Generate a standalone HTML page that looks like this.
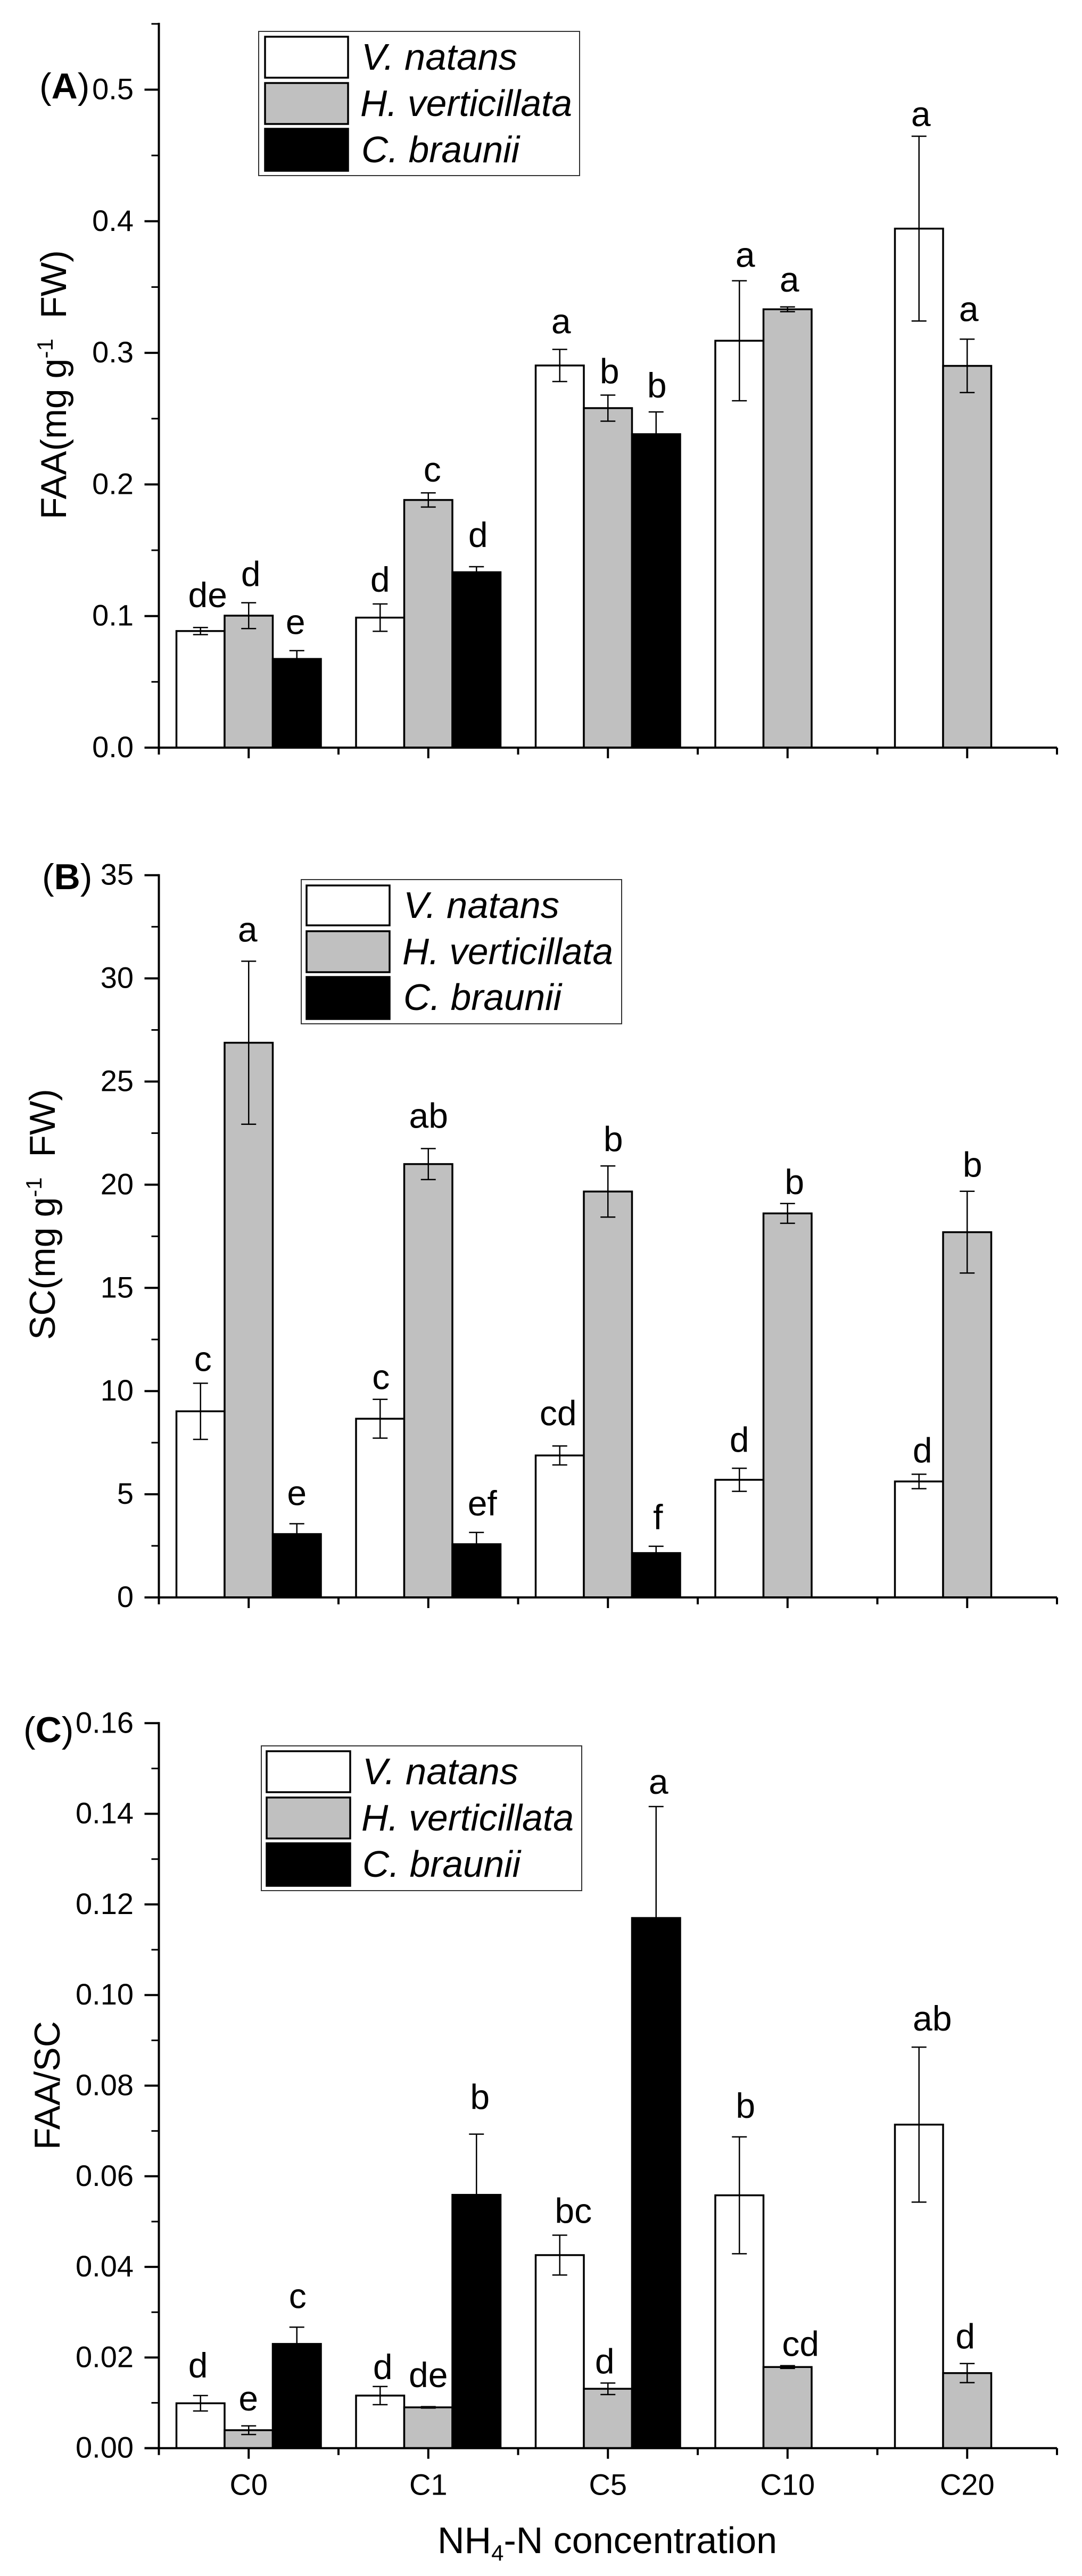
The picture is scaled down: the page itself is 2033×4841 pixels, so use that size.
<!DOCTYPE html>
<html lang="en">
<head>
<meta charset="utf-8">
<title>FAA, SC and FAA/SC by NH4-N concentration</title>
<style>
html,body{margin:0;padding:0;background:#fff;}
svg{display:block;}
text{font-family:"Liberation Sans",Arial,sans-serif;fill:#000;}
.leg{font-size:69.5px;font-style:italic;}
.ttl{font-size:68px;}
</style>
</head>
<body>
<svg id="fig" xmlns="http://www.w3.org/2000/svg" width="2033" height="4841" viewBox="0 0 2033 4841">
<rect x="0" y="0" width="2033" height="4841" fill="#fff"/>

<g id="panelA"></g>
<g id="panelB"></g>
<g id="panelC"></g>

<text class="ttl" x="74" y="185">(<tspan font-weight="bold">A</tspan>)</text>
<text class="ttl" x="79" y="1671">(<tspan font-weight="bold">B</tspan>)</text>
<text class="ttl" x="44" y="3274">(<tspan font-weight="bold">C</tspan>)</text>

<text class="ttl" xml:space="preserve" transform="translate(124,976) rotate(-90)">FAA(mg g<tspan dy="-25" font-size="42">-1</tspan><tspan dy="25">  FW)</tspan></text>
<text class="ttl" xml:space="preserve" transform="translate(103,2518) rotate(-90)">SC(mg g<tspan dy="-25" font-size="42">-1</tspan><tspan dy="25">  FW)</tspan></text>
<text class="ttl" transform="translate(112,4040) rotate(-90)">FAA/SC</text>
<text x="822" y="4798" font-size="70">NH<tspan dy="14" font-size="42">4</tspan><tspan dy="-14">-N concentration</tspan></text>

<g>
  <rect x="486" y="59" width="603" height="271" fill="#fff" stroke="#333" stroke-width="2"/>
  <rect x="498" y="69" width="156" height="77" fill="#fff" stroke="#000" stroke-width="3.5"/>
  <rect x="498" y="156" width="156" height="77" fill="#c0c0c0" stroke="#000" stroke-width="3.5"/>
  <rect x="498" y="242" width="156" height="79" fill="#000" stroke="#000" stroke-width="3.5"/>
  <text class="leg" x="679" y="131" textLength="293" lengthAdjust="spacingAndGlyphs">V. natans</text>
  <text class="leg" x="677" y="218" textLength="398" lengthAdjust="spacingAndGlyphs">H. verticillata</text>
  <text class="leg" x="679" y="305" textLength="297" lengthAdjust="spacingAndGlyphs">C. braunii</text>
</g>
<g>
  <rect x="566" y="1653" width="602" height="271" fill="#fff" stroke="#333" stroke-width="2"/>
  <rect x="576" y="1664" width="156" height="75" fill="#fff" stroke="#000" stroke-width="3.5"/>
  <rect x="576" y="1750" width="156" height="77" fill="#c0c0c0" stroke="#000" stroke-width="3.5"/>
  <rect x="576" y="1836" width="156" height="79" fill="#000" stroke="#000" stroke-width="3.5"/>
  <text class="leg" x="758" y="1725" textLength="293" lengthAdjust="spacingAndGlyphs">V. natans</text>
  <text class="leg" x="756" y="1812" textLength="396" lengthAdjust="spacingAndGlyphs">H. verticillata</text>
  <text class="leg" x="758" y="1898" textLength="297" lengthAdjust="spacingAndGlyphs">C. braunii</text>
</g>
<g>
  <rect x="491" y="3281" width="602" height="272" fill="#fff" stroke="#333" stroke-width="2"/>
  <rect x="501" y="3291" width="157" height="77" fill="#fff" stroke="#000" stroke-width="3.5"/>
  <rect x="501" y="3378" width="157" height="77" fill="#c0c0c0" stroke="#000" stroke-width="3.5"/>
  <rect x="501" y="3464" width="157" height="80" fill="#000" stroke="#000" stroke-width="3.5"/>
  <text class="leg" x="681" y="3353" textLength="293" lengthAdjust="spacingAndGlyphs">V. natans</text>
  <text class="leg" x="679" y="3440" textLength="399" lengthAdjust="spacingAndGlyphs">H. verticillata</text>
  <text class="leg" x="681" y="3527" textLength="297" lengthAdjust="spacingAndGlyphs">C. braunii</text>
</g>
</svg>

<script>
// Shared categories
const categories = ['C0', 'C1', 'C5', 'C10', 'C20'];

// Panel A: FAA
const faaVnatans = [0.0886, 0.0988, 0.2904, 0.3092, 0.3944];
const faaVnatansErr = [0.0027, 0.0104, 0.0122, 0.0456, 0.0702];
const faaHvert = [0.1003, 0.1882, 0.2580, 0.3331, 0.2901];
const faaHvertErr = [0.0098, 0.0054, 0.0099, 0.0018, 0.0203];
const faaCbraunii = [0.0674, 0.1333, 0.2382, null, null];
const faaCbrauniiErr = [0.0063, 0.0042, 0.0169, null, null];
const faaLettersV = ['de', 'd', 'a', 'a', 'a'];
const faaLettersH = ['d', 'c', 'b', 'a', 'a'];
const faaLettersC = ['e', 'd', 'b', null, null];
const faaTickLabels = ['0.0', '0.1', '0.2', '0.3', '0.4', '0.5'];

// Panel B: SC
const scVnatans = [9.02, 8.66, 6.88, 5.70, 5.62];
const scVnatansErr = [1.36, 0.94, 0.46, 0.56, 0.35];
const scHvert = [26.88, 21.0, 19.67, 18.61, 17.70];
const scHvertErr = [3.95, 0.75, 1.24, 0.48, 1.98];
const scCbraunii = [3.07, 2.58, 2.15, null, null];
const scCbrauniiErr = [0.50, 0.57, 0.33, null, null];
const scLettersV = ['c', 'c', 'cd', 'd', 'd'];
const scLettersH = ['a', 'ab', 'b', 'b', 'b'];
const scLettersC = ['e', 'ef', 'f', null, null];
const scTickLabels = ['0', '5', '10', '15', '20', '25', '30', '35'];

// Panel C: FAA/SC
const ratioVnatans = [0.0099, 0.0116, 0.0426, 0.0558, 0.0714];
const ratioVnatansErr = [0.0017, 0.0020, 0.0044, 0.0129, 0.0171];
const ratioHvert = [0.00396, 0.0090, 0.0131, 0.0179, 0.01656];
const ratioHvertErr = [0.00095, 0.00015, 0.00127, 0.0003, 0.0021];
const ratioCbraunii = [0.0230, 0.0559, 0.1170, null, null];
const ratioCbrauniiErr = [0.0037, 0.0134, 0.0246, null, null];
const ratioLettersV = ['d', 'd', 'bc', 'b', 'ab'];
const ratioLettersH = ['e', 'de', 'd', 'cd', 'd'];
const ratioLettersC = ['c', 'b', 'a', null, null];
const ratioTickLabels = ['0.00', '0.02', '0.04', '0.06', '0.08', '0.10', '0.12', '0.14', '0.16'];

const SVGNS = 'http://www.w3.org/2000/svg';
function make(parent, tag, attrs, text) {
  const n = document.createElementNS(SVGNS, tag);
  for (const k in attrs) n.setAttribute(k, attrs[k]);
  if (text !== undefined) n.textContent = text;
  parent.appendChild(n);
  return n;
}

// Shared x axis function: category index to group centre
const AXIS_LEFT = 298.5, HALF_STEP = 168.75, BAR_W = 90.5;
function xCenter(i) { return AXIS_LEFT + HALF_STEP * (2 * i + 1); }

const SERIES_OFFSET = [-BAR_W, 0, BAR_W];
const SERIES_FILL = ['#fff', '#c0c0c0', '#000'];
const SERIES_KEY = ['v-natans', 'h-verticillata', 'c-braunii'];

function drawPanel(cfg) {
  const g = document.getElementById(cfg.id);
  const y = v => cfg.y0 - v * cfg.scale;

  // bars (drawn first), error bars and letters drawn afterwards
  cfg.series.forEach((s, si) => {
    s.values.forEach((v, i) => {
      if (v === null) return;
      const cx = xCenter(i) + SERIES_OFFSET[si];
      const bar = make(g, 'rect', {
        x: cx - BAR_W / 2, y: y(v), width: BAR_W, height: cfg.y0 - y(v),
        fill: SERIES_FILL[si], stroke: '#000', 'stroke-width': 3.5
      });
      
      
    });
  });
  cfg.series.forEach((s, si) => {
    s.values.forEach((v, i) => {
      if (v === null) return;
      const cx = xCenter(i) + SERIES_OFFSET[si];
      const hi = y(v + s.errs[i]), lo = y(v - s.errs[i]);
      const eb = make(g, 'path', {
        d: 'M' + cx + ' ' + lo + 'V' + hi +
           'M' + (cx - 14) + ' ' + hi + 'H' + (cx + 14) +
           'M' + (cx - 14) + ' ' + lo + 'H' + (cx + 14),
        fill: 'none', stroke: '#000', 'stroke-width': 2.5
      });
      
      
      const lab = make(g, 'text', {
        x: cx + s.nudgeX[i], y: hi - s.gap[i], 'text-anchor': 'middle', 'font-size': 66
      }, s.letters[i]);
      
      
    });
  });

  // y axis
  const yLine = make(g, 'line', {
    x1: AXIS_LEFT, x2: AXIS_LEFT, y1: y(cfg.minorCount * cfg.minorStep) - 2, y2: cfg.y0 + 2,
    stroke: '#000', 'stroke-width': 4
  });
  
  
  for (let i = 0; i <= cfg.minorCount; i++) {
    const major = i % 2 === 0;
    const t = make(g, 'line', {
      x1: AXIS_LEFT - (major ? 27 : 14), x2: AXIS_LEFT, y1: y(i * cfg.minorStep), y2: y(i * cfg.minorStep),
      stroke: '#000', 'stroke-width': major ? 4 : 3
    });
    
    
  }
  cfg.tickLabels.forEach((lbl, i) => {
    const t = make(g, 'text', {
      x: 251, y: y(i * cfg.minorStep * 2) + 18, 'text-anchor': 'end', 'font-size': 56
    }, lbl);
    
    
  });

  // x axis
  const xLine = make(g, 'line', {
    x1: AXIS_LEFT - 27, x2: AXIS_LEFT + HALF_STEP * 10, y1: cfg.y0, y2: cfg.y0,
    stroke: '#000', 'stroke-width': 4
  });
  
  
  for (let i = 0; i <= 10; i++) {
    const major = i % 2 === 1;
    const px = AXIS_LEFT + i * HALF_STEP;
    const t = make(g, 'line', {
      x1: px, x2: px, y1: cfg.y0, y2: cfg.y0 + (major ? 20 : 13),
      stroke: '#000', 'stroke-width': 4
    });
    
    
  }
  if (cfg.showCategories) {
    categories.forEach((c, i) => {
      const t = make(g, 'text', {
        x: xCenter(i), y: cfg.y0 + 88, 'text-anchor': 'middle', 'font-size': 56
      }, c);
      
      
    });
  }
}

drawPanel({
  id: 'panelA', y0: 1405, scale: 2473, minorStep: 0.05, minorCount: 11,
  tickLabels: faaTickLabels,
  series: [
    { values: faaVnatans, errs: faaVnatansErr, letters: faaLettersV, nudgeX: [13.5, 0, 2.5, 11, 3.5], gap: [38, 23, 30, 26, 19] },
    { values: faaHvert, errs: faaHvertErr, letters: faaLettersH, nudgeX: [4, 7.5, 3, 3.5, 3], gap: [31, 21, 22, 29, 34] },
    { values: faaCbraunii, errs: faaCbrauniiErr, letters: faaLettersC, nudgeX: [-2.5, 3, 1.5], gap: [31, 37, 27] }
  ]
});
drawPanel({
  id: 'panelB', y0: 3002, scale: 38.78, minorStep: 2.5, minorCount: 14,
  tickLabels: scTickLabels,
  series: [
    { values: scVnatans, errs: scVnatansErr, letters: scLettersV, nudgeX: [4.5, 1.5, -3, 0, 6.5], gap: [23, 19, 39, 30.6, 22] },
    { values: scHvert, errs: scHvertErr, letters: scLettersH, nudgeX: [-2, 0.5, 10, 13, 10], gap: [37, 39, 27.5, 17.6, 27.5] },
    { values: scCbraunii, errs: scCbrauniiErr, letters: scLettersC, nudgeX: [0, 11, 3.5], gap: [35, 32, 32] }
  ]
});
drawPanel({
  id: 'panelC', y0: 4600.7, scale: 8515, minorStep: 0.01, minorCount: 16,
  tickLabels: ratioTickLabels, showCategories: true,
  series: [
    { values: ratioVnatans, errs: ratioVnatansErr, letters: ratioLettersV, nudgeX: [-4.7, 5, 25.5, 11.5, 25], gap: [34, 14, 23, 35.5, 31] },
    { values: ratioHvert, errs: ratioHvertErr, letters: ratioLettersH, nudgeX: [-0.5, 0, -6, 24.5, -3.5], gap: [29, 37, 18, 18, 28.5] },
    { values: ratioCbraunii, errs: ratioCbrauniiErr, letters: ratioLettersC, nudgeX: [1.5, 6.5, 4.5], gap: [36, 47, 24] }
  ]
});
</script>
</body>
</html>
